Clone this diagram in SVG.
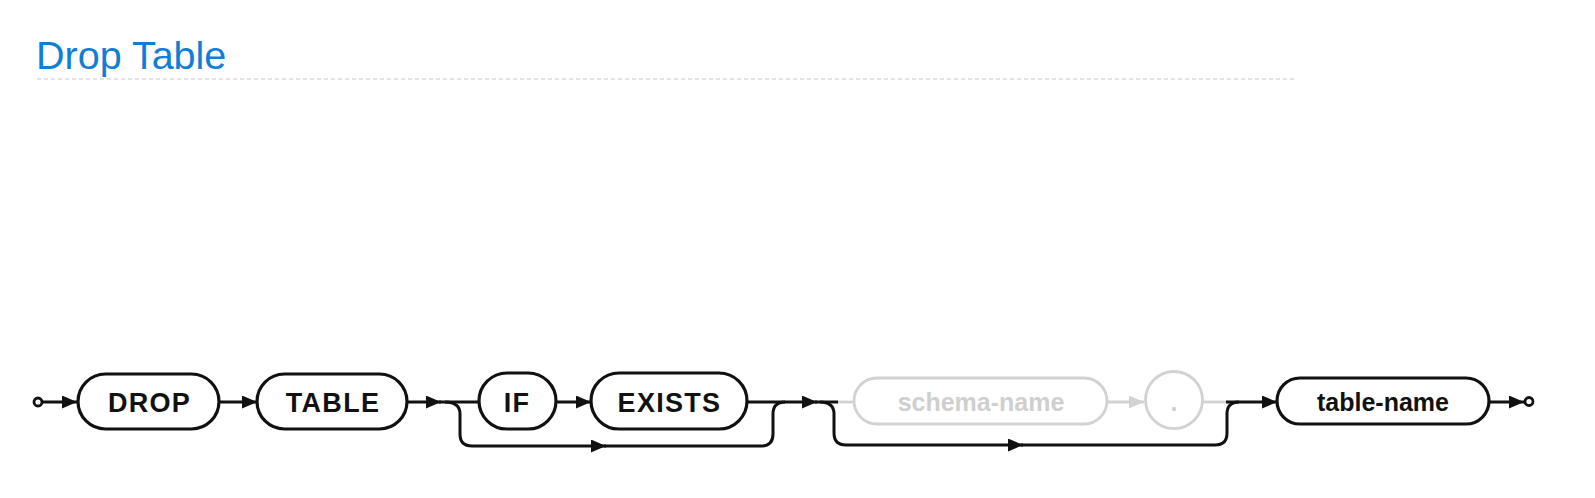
<svg xmlns="http://www.w3.org/2000/svg" width="1595" height="498" viewBox="0 0 1595 498">
<style>
.bg{fill:#ffffff}
.title{font-family:"Liberation Sans",Arial,sans-serif;font-size:39.5px;fill:#0f7ed6}
.rule{stroke:#c8c8c8;stroke-width:1.2;stroke-dasharray:4 3;fill:none}
.box{fill:#ffffff;stroke:#111111;stroke-width:3.2}
.gbox{fill:#ffffff;stroke:#d2d2d2;stroke-width:2.8}
.kw{font-family:"Liberation Sans",Arial,sans-serif;font-weight:bold;font-size:27px;letter-spacing:1.3px;fill:#111111;text-anchor:middle}
.id{font-family:"Liberation Sans",Arial,sans-serif;font-weight:bold;font-size:25px;fill:#111111;text-anchor:middle}
.gid{font-family:"Liberation Sans",Arial,sans-serif;font-weight:bold;font-size:25px;fill:#cfcfcf;text-anchor:middle}
.ln{fill:none;stroke:#111111;stroke-width:3}
.gln{fill:none;stroke:#d2d2d2;stroke-width:2.8}
.term{fill:#ffffff;stroke:#111111;stroke-width:2.8}
</style>
<defs>
<marker id="ah" markerUnits="userSpaceOnUse" markerWidth="16" markerHeight="14" refX="15" refY="6.5" orient="auto">
<path d="M0,0 L15,6.5 L0,13 z" fill="#111111"/>
</marker>
<marker id="gah" markerUnits="userSpaceOnUse" markerWidth="16" markerHeight="14" refX="15" refY="6.5" orient="auto">
<path d="M0,0 L15,6.5 L0,13 z" fill="#d2d2d2"/>
</marker>
</defs>
<rect class="bg" x="0" y="0" width="1595" height="498"/>
<g id="title">
<text class="title" x="36" y="69">Drop Table</text>
<line class="rule" x1="37" y1="79" x2="1296" y2="79"/>
</g>
<g id="connectors">
<path class="gln" d="M837,402 H854"/>
<path class="gln" d="M1107,402 H1144" marker-end="url(#gah)"/>
<path class="gln" d="M1203,402 H1228"/>
<path class="ln" d="M42.5,402 H77" marker-end="url(#ah)"/>
<path class="ln" d="M219,402 H257" marker-end="url(#ah)"/>
<path class="ln" d="M407,402 H441" marker-end="url(#ah)"/>
<path class="ln" d="M439,402 H479"/>
<path class="ln" d="M556,402 H591" marker-end="url(#ah)"/>
<path class="ln" d="M747,402 H817" marker-end="url(#ah)"/>
<path class="ln" d="M815,402 H838"/>
<path class="ln" d="M445,402 Q460,402 460,414 V434 Q460,446 472,446 H606" marker-end="url(#ah)"/>
<path class="ln" d="M604,446 H761 Q773,446 773,434 V414 Q773,402 785,402"/>
<path class="ln" d="M820,402 Q834,402 834,414 V433 Q834,445 846,445 H1023" marker-end="url(#ah)"/>
<path class="ln" d="M1021,445 H1215 Q1227,445 1227,433 V414 Q1227,402 1239,402"/>
<path class="ln" d="M1226,402 H1277" marker-end="url(#ah)"/>
<path class="ln" d="M1489,402 H1524" marker-end="url(#ah)"/>
</g>
<g id="start"><circle class="term" cx="38" cy="402" r="4"/></g>
<g id="drop">
<rect class="box" x="78" y="374" width="141" height="55" rx="27.5"/>
<text class="kw" x="149.5" y="412">DROP</text>
</g>
<g id="table">
<rect class="box" x="257" y="374" width="150" height="55" rx="27.5"/>
<text class="kw" x="333" y="412">TABLE</text>
</g>
<g id="if">
<rect class="box" x="479" y="373" width="77" height="56" rx="28"/>
<text class="kw" x="517" y="412">IF</text>
</g>
<g id="exists">
<rect class="box" x="591" y="373" width="156" height="56" rx="28"/>
<text class="kw" x="669.5" y="412">EXISTS</text>
</g>
<g id="schema-name">
<rect class="gbox" x="854" y="378" width="253" height="46" rx="23"/>
<text class="gid" x="981" y="411">schema-name</text>
</g>
<g id="dot">
<circle class="gbox" cx="1174" cy="400" r="28.5"/>
<text class="gid" x="1174" y="411">.</text>
</g>
<g id="table-name">
<rect class="box" x="1277" y="378" width="212" height="46" rx="23"/>
<text class="id" x="1383" y="411">table-name</text>
</g>
<g id="end"><circle class="term" cx="1529" cy="401.5" r="4"/></g>
</svg>
